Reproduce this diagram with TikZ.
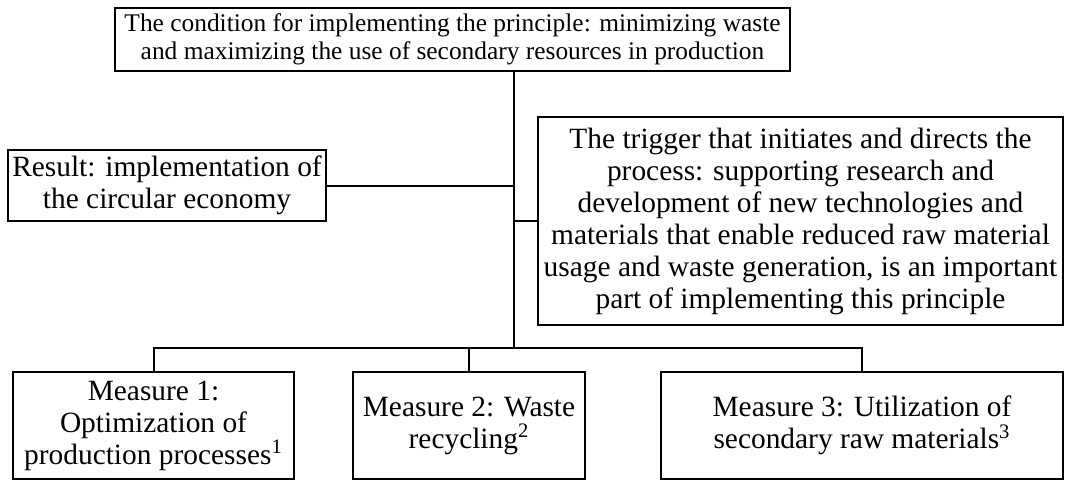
\documentclass[tikz,border=0pt]{standalone}
\usepackage{fontspec}
\setmainfont{Liberation Serif}
\usepackage{tikz}
\usetikzlibrary{calc,positioning}
\tikzset{
    plain element/.style={
        draw,line width=1pt,
        fill=white,inner sep=0pt,
        align=center,
        font=\fontsize{14.7}{16}\selectfont
    },
    measure element/.style={
        plain element,
        minimum height=53.5pt
    },
    link/.style={line width=1pt},
    trunk/.style={line width=1.4pt}
}
\begin{document}
\begin{tikzpicture}[x=0.5pt,y=-0.5pt]
\useasboundingbox (0,0) rectangle (1065,481);
\node[plain element,minimum width=337.5pt,minimum height=31.5pt,font=\fontsize{12.7}{14}\selectfont] (cond) at (452.5,39.5)
    {The condition for implementing the principle: minimizing waste\\and maximizing the use of secondary resources in production};
\node[plain element,minimum width=159pt,minimum height=35.5pt] (result) at (167,185.5)
    {Result: implementation of\\the circular economy};
\node[plain element,minimum width=262.5pt,minimum height=104pt] (trigger) at (800.5,221)
    {The trigger that initiates and directs the\\process: supporting research and\\development of new technologies and\\materials that enable reduced raw material\\usage and waste generation, is an important\\part of implementing this principle};
\foreach \i/\x/\w/\txt in {1/153.5/140.5/{Measure 1:\\Optimization of\\production processes\textsuperscript{1}},
                           2/469/116/{Measure 2: Waste\\recycling\textsuperscript{2}},
                           3/862/201/{Measure 3: Utilization of\\secondary raw materials\textsuperscript{3}}}
    \node[measure element,minimum width=\w pt] (meas_\i) at (\x,425.5) {\txt};
\coordinate (bus) at (514,348);
\draw[trunk] (cond.south -| bus) -- (bus);
\draw[link] (result.east) -- (result.east -| bus);
\draw[link] (trigger.west) -- (trigger.west -| bus);
\draw[link] (meas_1.north) -- (meas_1.north |- bus) -- (meas_3.north |- bus) -- (meas_3.north);
\draw[link] (meas_2.north) -- (meas_2.north |- bus);
\end{tikzpicture}
\end{document}
